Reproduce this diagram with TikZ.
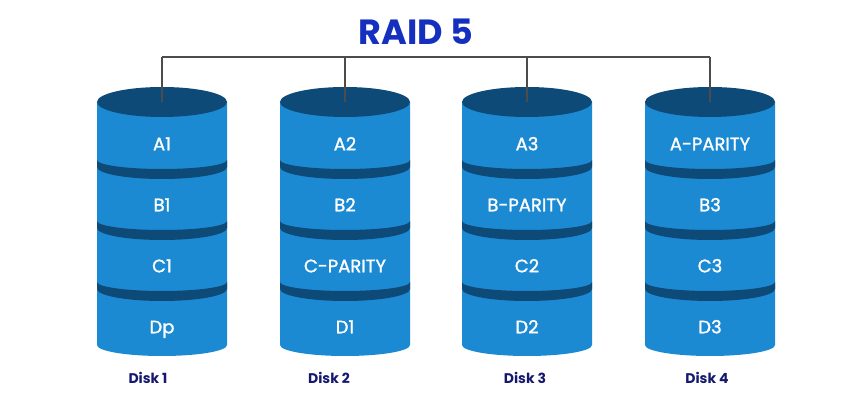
\documentclass[tikz,border=0pt]{standalone}
\usepackage{fontspec}
\setmainfont{Poppins}
\newfontfamily\segfont{Poppins}[FakeBold=1.3]
\definecolor{diskblue}{HTML}{1C8AD3}
\definecolor{disktop}{HTML}{0E4A78}
\definecolor{titleblue}{HTML}{1530BE}
\definecolor{disknavy}{HTML}{15186E}
\tikzset{
  seglabel/.style={text=white, inner sep=0pt, text height=12.6pt, text depth=0pt,
    font=\segfont\fontsize{18}{20}\selectfont},
  disklabel/.style={text=disknavy, font=\fontsize{14}{16}\selectfont\bfseries},
  bus/.style={draw=black!70, line width=1.2pt},
}

\begin{document}
\begin{tikzpicture}[x=1pt,y=1pt]
    \useasboundingbox (0,0) rectangle (866,401);
    % title on top
    \node[text=titleblue, font=\fontsize{35}{40}\selectfont\bfseries] (title) at (416,369) {RAID 5};

    % four disks, each one a blue body with a dark top and three dark bands
    \foreach \cx/\n/\a/\b/\c/\d/\lx in {162/1/A1/B1/C1/Dp/148, 345/2/A2/B2/C-PARITY/D1/329,
        527/3/A3/B-PARITY/C2/D2/525, 710/4/A-PARITY/B3/C3/D3/707}{
        \fill[diskblue] (\cx-65,299) -- (\cx-65,56)
            arc[start angle=180, end angle=360, x radius=65, y radius=11] -- (\cx+65,299) -- cycle;
        \fill[disktop] (\cx,299) ellipse[x radius=65, y radius=15];
        % bands between the blocks
        \foreach \s in {241,180,119}{
            \fill[disktop] (\cx-65,\s) arc[start angle=180, end angle=360, x radius=65, y radius=9]
                -- (\cx+65,\s-7) arc[start angle=360, end angle=180, x radius=65, y radius=12] -- cycle;
        }
        % block names
        \node[seglabel] (a\n) at (\cx,257) {\a};
        \node[seglabel] (b\n) at (\cx,196) {\b};
        \node[seglabel] (c\n) at (\cx,135) {\c};
        \node[seglabel] (d\n) at (\cx,74) {\d};
        % name of the disk below it
        \node[disklabel] (disk\n) at (\lx,23) {Disk \n};
        % points for the bus line
        \coordinate (top\n) at (\cx,299);
        \coordinate (bus\n) at (\cx,344);
        \draw[bus] (bus\n) -- (top\n);
    }
    % horizontal line joining the disks
    \draw[bus] (bus1) -- (bus4);
\end{tikzpicture}
\end{document}
